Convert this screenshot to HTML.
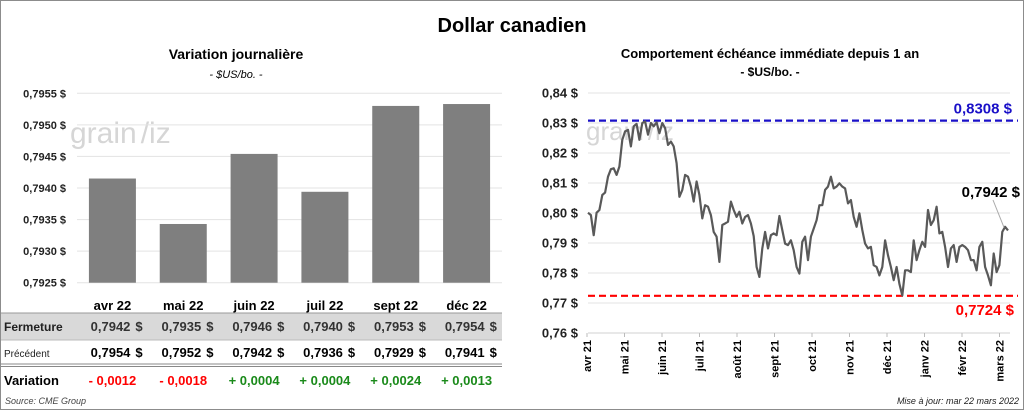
<!DOCTYPE html>
<html><head><meta charset="utf-8"><style>
body{margin:0;background:#fff;font-family:"Liberation Sans",sans-serif;}
svg text{font-family:"Liberation Sans",sans-serif;}
</style></head><body>
<svg id="root" width="1024" height="410" viewBox="0 0 1024 410" xmlns="http://www.w3.org/2000/svg">
<rect x="0.5" y="0.5" width="1023" height="409" fill="#fff" stroke="#8c8c8c"/>
<text x="512" y="32" text-anchor="middle" font-size="20" font-weight="bold">Dollar canadien</text>
<text x="236" y="59" text-anchor="middle" font-size="14" font-weight="bold">Variation  journalière</text>
<text x="236" y="78" text-anchor="middle" font-size="11" font-style="italic">- $US/bo. -</text>
<text x="770" y="58" text-anchor="middle" font-size="13" font-weight="bold">Comportement échéance immédiate depuis 1 an</text>
<text x="770" y="76" text-anchor="middle" font-size="12" font-weight="bold">- $US/bo. -</text>
<text x="70" y="143" font-size="30" fill="#d6d6d6">grain<tspan dx="4">/iz</tspan></text>
<text x="586" y="140" font-size="26" fill="#d6d6d6">grain<tspan dx="4">/iz</tspan></text>
<g id="left"></g>
<g id="right"></g>
<g id="table"></g>
<text x="5" y="404" font-size="9" font-style="italic" fill="#444">Source: CME Group</text>
<text x="1019" y="404" text-anchor="end" font-size="9" font-style="italic" fill="#222">Mise à jour: mar 22 mars 2022</text>
</svg>
<script>
const barCats=["avr 22","mai 22","juin 22","juil 22","sept 22","déc 22"];
const barVals=[0.79415,0.79343,0.79454,0.79394,0.7953,0.79533];
const barTicks=[0.7925,0.793,0.7935,0.794,0.7945,0.795,0.7955];
const closeVals=["0,7942","0,7935","0,7946","0,7940","0,7953","0,7954"];
const prevVals=["0,7954","0,7952","0,7942","0,7936","0,7929","0,7941"];
const varVals=["- 0,0012","- 0,0018","+ 0,0004","+ 0,0004","+ 0,0024","+ 0,0013"];
const lineTicks=[0.76,0.77,0.78,0.79,0.80,0.81,0.82,0.83,0.84];
const months=["avr 21","mai 21","juin 21","juil 21","août 21","sept 21","oct 21","nov 21","déc 21","janv 22","févr 22","mars 22"];
const hiVal=0.8308, loVal=0.7724, lastVal=0.7942;
const series=[0.8001,0.7993,0.7926,0.8001,0.8010,0.8060,0.8068,0.8121,0.8146,0.8149,0.8127,0.8155,0.8244,0.8272,0.8277,0.8222,0.8289,0.8297,0.8244,0.8300,0.8305,0.8261,0.8300,0.8289,0.8302,0.8266,0.8300,0.8283,0.8227,0.8238,0.8222,0.8166,0.8054,0.8077,0.8127,0.8121,0.8088,0.8038,0.8105,0.8060,0.7982,0.8026,0.8021,0.7993,0.7937,0.7921,0.7837,0.7960,0.7965,0.7971,0.8038,0.8010,0.7987,0.8004,0.7965,0.7987,0.7993,0.7965,0.7923,0.7820,0.7787,0.7882,0.7937,0.7882,0.7926,0.7932,0.7926,0.7990,0.7943,0.7898,0.7893,0.7909,0.7876,0.7820,0.7798,0.7904,0.7921,0.7843,0.7921,0.7948,0.7976,0.8026,0.8026,0.8077,0.8088,0.8121,0.8082,0.8088,0.8099,0.8088,0.8082,0.8032,0.8043,0.7987,0.7954,0.7999,0.7943,0.7898,0.7882,0.7887,0.7826,0.7820,0.7792,0.7820,0.7909,0.7859,0.7820,0.7776,0.7820,0.7764,0.7725,0.7809,0.7809,0.7803,0.7909,0.7843,0.7876,0.7904,0.7887,0.8010,0.7960,0.7976,0.8021,0.7932,0.7937,0.7887,0.7820,0.7882,0.7893,0.7837,0.7887,0.7893,0.7887,0.7876,0.7843,0.7843,0.7809,0.7887,0.7904,0.7820,0.7792,0.7759,0.7865,0.7803,0.7826,0.7937,0.7954,0.7942];

const NS="http://www.w3.org/2000/svg";
function mk(p,tag,attrs){const e=document.createElementNS(NS,tag);for(const k in attrs)e.setAttribute(k,attrs[k]);p.appendChild(e);return e;}
const fmt=(v,d)=>v.toFixed(d).replace('.',',')+' $';

// left bar chart
const L=document.getElementById('left');
const lx0=77,lx1=502,ly=v=>282.7-(v-0.7925)/0.0030*189.4;
const slot=(lx1-lx0)/barCats.length;
const cx=i=>lx0+slot*(i+0.5);
barTicks.forEach(t=>{
 const g=mk(L,'line',{x1:lx0,x2:lx1,y1:ly(t),y2:ly(t),stroke:'#e3e3e3','stroke-width':1});
 
 
 const tx=mk(L,'text',{x:66,y:ly(t)+4,'text-anchor':'end','font-size':11,'font-weight':'bold',fill:'#222'});
 tx.textContent=fmt(t,4);
 
 
});
barVals.forEach((v,i)=>{
 const r=mk(L,'rect',{x:cx(i)-23.5,y:ly(v),width:47,height:ly(0.7925)-ly(v),fill:'#7f7f7f'});
 
 
});

// table
const T=document.getElementById('table');
mk(T,'rect',{x:1,y:313,width:501,height:27,fill:'#d9d9d9'});
mk(T,'line',{x1:1,x2:502,y1:313,y2:313,stroke:'#999'});
mk(T,'line',{x1:1,x2:502,y1:340,y2:340,stroke:'#bbb'});
mk(T,'line',{x1:1,x2:502,y1:364,y2:364,stroke:'#888'});
mk(T,'line',{x1:1,x2:502,y1:366.5,y2:366.5,stroke:'#888'});
const hdr=[['Fermeture',331,12,'bold','#222'],['Précédent',357,10,'normal','#222'],['Variation',385,13,'bold','#000']];
hdr.forEach(h=>{const t=mk(T,'text',{x:4,y:h[1],'font-size':h[2],'font-weight':h[3],fill:h[4]});t.textContent=h[0];
 
 });
barCats.forEach((c,i)=>{
 const t=mk(T,'text',{x:cx(i),y:310,'text-anchor':'middle','font-size':13,'font-weight':'bold'});t.textContent=c;
 
 
 const a=mk(T,'text',{x:cx(i)+18,y:331,'text-anchor':'end','font-size':13,'font-weight':'bold',fill:'#333'});a.textContent=closeVals[i];
 
 
 const a2=mk(T,'text',{x:cx(i)+23,y:331,'font-size':13,'font-weight':'bold',fill:'#333'});a2.textContent='$';
 
 
 const b=mk(T,'text',{x:cx(i)+18,y:357,'text-anchor':'end','font-size':13,'font-weight':'bold'});b.textContent=prevVals[i];
 
 
 const b2=mk(T,'text',{x:cx(i)+23,y:357,'font-size':13,'font-weight':'bold'});b2.textContent='$';
 
 
 const d=mk(T,'text',{x:cx(i),y:385,'text-anchor':'middle','font-size':13,'font-weight':'bold',fill:varVals[i][0]=='-'?'#ff0000':'#1a8a1a'});d.textContent=varVals[i];
 
 
});

// right line chart
const R=document.getElementById('right');
const rx0=588,rx1=1008,ry=v=>333-(v-0.76)/0.08*240;
lineTicks.forEach(t=>{
 const g=mk(R,'line',{x1:rx0,x2:1010,y1:ry(t),y2:ry(t),stroke:t==0.76?'#d0d0d0':'#e3e3e3'});
 
 
 const tx=mk(R,'text',{x:578,y:ry(t)+4.5,'text-anchor':'end','font-size':13,'font-weight':'bold',fill:'#222'});tx.textContent=fmt(t,2);
 
 
});
const mStep=(rx1-rx0)/11.2;
months.forEach((m,i)=>{
 const x=rx0-1+i*mStep;
 mk(R,'line',{x1:x,x2:x,y1:333,y2:337,stroke:'#bbb'});
 const t=mk(R,'text',{x:x+4,y:340,'text-anchor':'end','font-size':11,'font-weight':'bold',transform:`rotate(-90 ${x+4} 340)`});t.textContent=m;
 
 
});
const hl=mk(R,'line',{x1:rx0,x2:1018,y1:ry(hiVal),y2:ry(hiVal),stroke:'#1a10c8','stroke-width':2.2,'stroke-dasharray':'7 4'});


const ll=mk(R,'line',{x1:rx0,x2:1018,y1:ry(loVal),y2:ry(loVal),stroke:'#ff0000','stroke-width':2.2,'stroke-dasharray':'7 4'});


const ht=mk(R,'text',{x:1012,y:ry(hiVal)-7,'text-anchor':'end','font-size':15,'font-weight':'bold',fill:'#1a10c8'});ht.textContent=fmt(hiVal,4);


const lt=mk(R,'text',{x:1014,y:ry(loVal)+19,'text-anchor':'end','font-size':15,'font-weight':'bold',fill:'#ff0000'});lt.textContent=fmt(loVal,4);


const sx=i=>rx0+i*(rx1-rx0)/(series.length-1);
const pl=mk(R,'polyline',{points:series.map((v,i)=>sx(i).toFixed(1)+','+ry(v).toFixed(1)).join(' '),fill:'none',stroke:'#595959','stroke-width':2.2,'stroke-linejoin':'round'});


mk(R,'line',{x1:1004,y1:ry(lastVal)-3,x2:993,y2:200,stroke:'#aaa'});
const lv=mk(R,'text',{x:1020,y:197,'text-anchor':'end','font-size':15,'font-weight':'bold'});lv.textContent=fmt(lastVal,4);


</script>
</body></html>
